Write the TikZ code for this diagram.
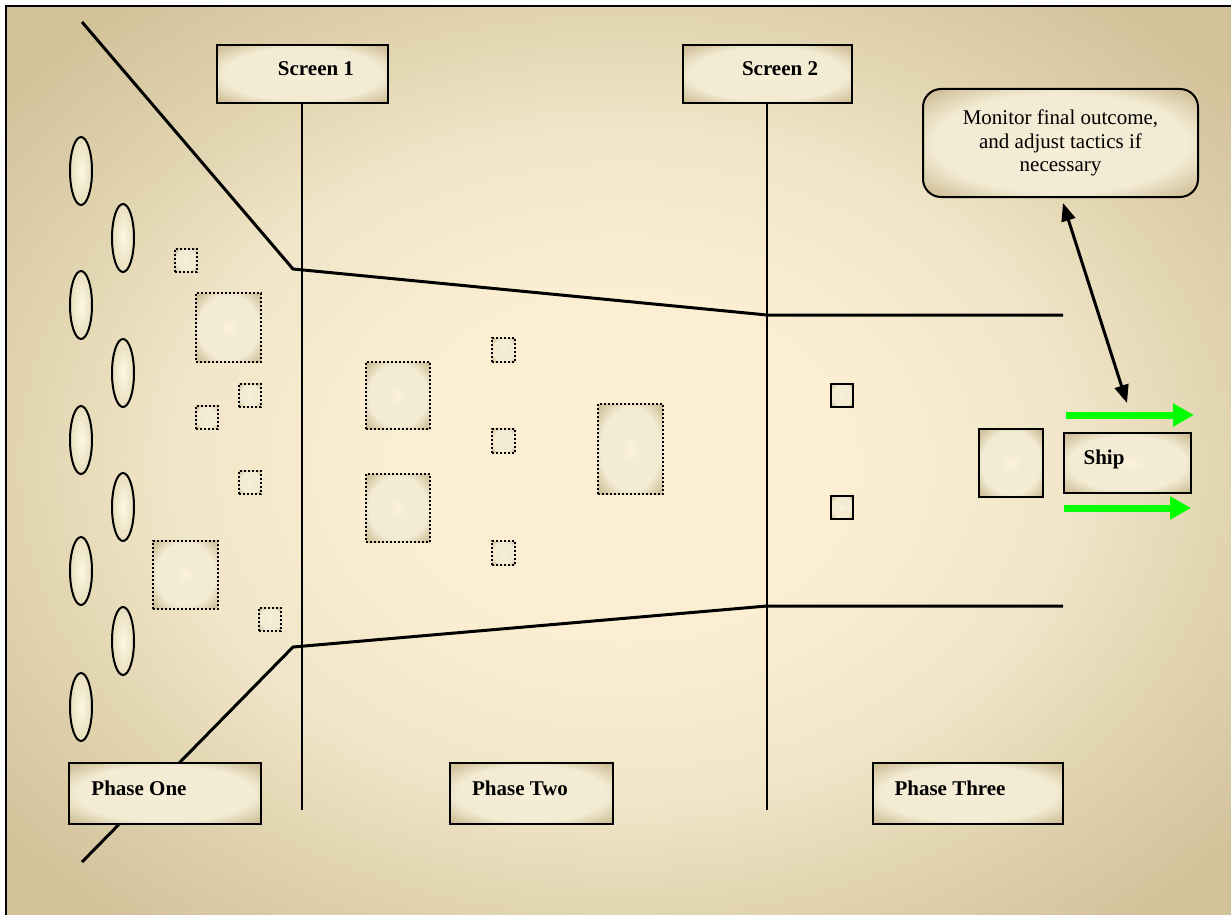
\documentclass[tikz,border=0pt]{standalone}
\usepackage{fontspec}
\setmainfont{Liberation Serif}
\usetikzlibrary{shapes.geometric,arrows.meta}
\definecolor{bgin}{RGB}{252,238,210}
\definecolor{bgmid}{RGB}{241,230,201}
\definecolor{bgtan}{RGB}{224,211,174}
\definecolor{bgout}{RGB}{210,195,155}
\definecolor{boxin}{RGB}{253,242,218}
\definecolor{boxmid}{RGB}{243,235,212}
\definecolor{boxout}{RGB}{208,193,153}
\definecolor{podin}{RGB}{254,248,228}
\definecolor{podout}{RGB}{232,222,190}
\pgfdeclareradialshading{bgshade}{\pgfpoint{0bp}{0bp}}{color(0bp)=(bgin); color(9bp)=(bgin);
    color(18bp)=(bgmid); color(25bp)=(bgtan); color(32bp)=(bgout); color(50bp)=(bgout)}
\pgfdeclareradialshading{boxshade}{\pgfpoint{0bp}{0bp}}{color(0bp)=(boxin); color(8bp)=(boxmid);
    color(23bp)=(boxmid); color(33bp)=(boxout); color(50bp)=(boxout)}
\begin{document}
\begin{tikzpicture}[x=0.5pt,y=-0.5pt,>={Triangle[length=9pt,width=7pt]},
    box/.style={draw,line width=1pt,inner sep=0pt,shade,shading=boxshade},
    dotbox/.style={box,dash pattern=on 1pt off 1pt},
    pod/.style={draw,ellipse,line width=1pt,inner sep=0pt,minimum width=11pt,minimum height=34pt,inner color=podin,outer color=podout},
    lbl/.style={font=\fontsize{10.5}{12.5}\selectfont\bfseries,inner sep=0pt},
    wall/.style={line width=1.5pt},
    go/.style={green,line width=3.5pt,-{Triangle[length=10.5pt,width=11pt]}}]
    \useasboundingbox (0,0) rectangle (1231,915);
    \clip (0,0) rectangle (1231,915);
    % background and frame
    \shade[shading=bgshade] (6,6) rectangle (1240,925);
    \draw[line width=1pt] (6,6) rectangle (1240,925);

    % funnel
    \draw[wall] (82,22) -- (293,269) -- (767,315) -- (1063,315);
    \draw[wall] (82,862) -- (293,647) -- (767,606) -- (1063,606);

    % screens
    \node[box,minimum width=85.5pt,minimum height=29pt] (scr1) at (302.5,74) {};
    \node[box,minimum width=84.5pt,minimum height=29pt] (scr2) at (767.5,74) {};
    \node[lbl] (scr1lbl) at (316,69) {Screen 1};
    \node[lbl] (scr2lbl) at (780,69) {Screen 2};
    \coordinate (scr1end) at (302,810);
    \coordinate (scr2end) at (767,810);
    \draw[line width=0.75pt] (scr1.south -| scr1end) -- (scr1end);
    \draw[line width=0.75pt] (scr2.south -| scr2end) -- (scr2end);

    % phases
    \node[box,minimum width=96pt,minimum height=30.5pt] (ph1) at (165,793.5) {};
    \node[box,minimum width=81.5pt,minimum height=30.5pt] (ph2) at (531.5,793.5) {};
    \node[box,minimum width=95pt,minimum height=30.5pt] (ph3) at (968,793.5) {};
    \node[lbl] (ph1lbl) at (139,788) {Phase One};
    \node[lbl] (ph2lbl) at (520,788) {Phase Two};
    \node[lbl] (ph3lbl) at (950,788) {Phase Three};

    % candidates
    \foreach \y [count=\i] in {171,305,440,571,707}
        \node[pod] (podl\i) at (81,\y) {};
    \foreach \y [count=\i] in {238,373,507,641}
        \node[pod] (podr\i) at (123,\y) {};

    \foreach \x/\y/\w/\h [count=\i] in {186/260/11pt/11.5pt, 228.5/327.5/32.5pt/34.5pt,
        250/395/11pt/11.5pt, 207/417/11pt/11.5pt, 250/482/11pt/11.5pt,
        185.5/574.5/32.5pt/34pt, 270/619/11pt/11.5pt,
        398/395.5/32pt/33.5pt, 398/508/32pt/34pt, 503.5/350/11.5pt/12pt,
        503.5/440.5/11.5pt/12pt, 503.5/553/11.5pt/12pt, 630.5/449/32.5pt/45pt}
        \node[dotbox,minimum width=\w,minimum height=\h] (cand\i) at (\x,\y) {};

    \node[box,minimum width=11pt,minimum height=11.5pt] (fin1) at (842,395) {};
    \node[box,minimum width=11pt,minimum height=11.5pt] (fin2) at (842,507.5) {};

    % ship
    \node[box,minimum width=32pt,minimum height=34pt] (cargo) at (1011,463) {};
    \node[box,minimum width=63.5pt,minimum height=30pt] (ship) at (1127.5,463) {};
    \node[lbl] (shiplbl) at (1104,459) {Ship};
    \draw[go] (1066,415) -- (1194,415);
    \draw[go] (1064,508) -- (1191,508);

    % monitor
    \node[box,rounded corners=9pt,minimum width=137.5pt,minimum height=54pt,align=center,
        font=\fontsize{10.5}{11.65}\selectfont] (mon) at (1060.5,143)
        {Monitor final outcome,\\ and adjust tactics if\\ necessary};
    \coordinate (montip) at (1063,203);
    \coordinate (shiptip) at (1127,403);
    \draw[<->,line width=1.5pt] (montip) -- (shiptip);
\end{tikzpicture}
\end{document}
